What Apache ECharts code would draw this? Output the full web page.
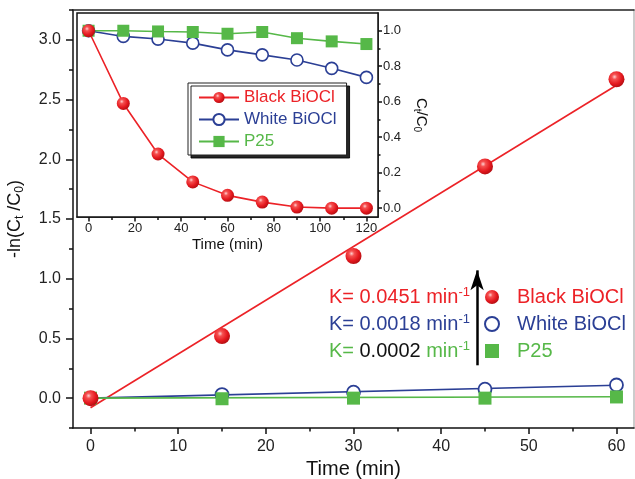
<!DOCTYPE html>
<html>
<head>
<meta charset="utf-8">
<script src="https://cdn.jsdelivr.net/npm/echarts@6/dist/echarts.min.js"></script>
<style>html,body{margin:0;padding:0;background:#fff}#c{width:635px;height:479px}</style>
</head>
<body>
<div id="c"></div>
<script>
// ---------- data ----------
var mainTimes = [0, 15, 30, 45, 60];
var mainBlack = [0, 0.52, 1.19, 1.94, 2.67];
var mainWhite = [0, 0.03, 0.05, 0.075, 0.11];
var mainP25 = [0, -0.005, 0, 0, 0.01];
var fitBlack = [[0, -0.08], [60, 2.62]];
var fitWhite = [[0, 0], [60, 0.108]];
var fitP25 = [[0, 0], [60, 0.012]];

var insetTimes = [0, 15, 30, 45, 60, 75, 90, 105, 120];
var insetBlack = [1.0, 0.59, 0.305, 0.148, 0.072, 0.034, 0.006, 0.0, 0.0];
var insetWhite = [1.0, 0.968, 0.953, 0.93, 0.892, 0.864, 0.835, 0.788, 0.737];
var insetP25 = [1.0, 1.0, 0.996, 0.993, 0.983, 0.993, 0.958, 0.94, 0.925];

var mainXTicks = [0, 10, 20, 30, 40, 50, 60];
var mainXMinor = [5, 15, 25, 35, 45, 55];
var mainYTicks = [0, 0.5, 1.0, 1.5, 2.0, 2.5, 3.0];
var mainYMinor = [-0.25, 0.25, 0.75, 1.25, 1.75, 2.25, 2.75, 3.25];
var insetXTicks = [0, 20, 40, 60, 80, 100, 120];
var insetXMinor = [10, 30, 50, 70, 90, 110];
var insetYTicks = [0, 0.2, 0.4, 0.6, 0.8, 1.0];
var insetYMinor = [0.1, 0.3, 0.5, 0.7, 0.9];

var names = ['Black BiOCl', 'White BiOCl', 'P25'];
var kTexts = ['0.0451', '0.0018', '0.0002'];
// ---------- end data ----------

var RED = '#ec2227', BLUE = '#2b3f95', GREEN = '#56b848';
var FONT = 'Liberation Sans, Arial, sans-serif';
function zip(xs, ys) { return xs.map(function (x, i) { return [x, ys[i]]; }); }
var sphere = function () {
  return {
    type: 'radial', x: 0.38, y: 0.35, r: 0.65,
    colorStops: [{ offset: 0, color: '#ffd0d0' }, { offset: 0.25, color: '#f55050' }, { offset: 0.7, color: '#e4181e' }, { offset: 1, color: '#b80f14' }]
  };
};

var chart = echarts.init(document.getElementById('c'), null, { renderer: 'canvas' });

function baseX(grid, min, max, ticks, minor, fs, margin, tickLen, extra) {
  return Object.assign({
    type: 'value', gridIndex: grid, min: min, max: max,
    axisLine: { show: true, onZero: false, lineStyle: { color: '#111', width: 1.5 } },
    axisTick: { show: true, inside: false, length: tickLen, customValues: ticks, lineStyle: { color: '#111', width: 1.5 } },
    axisLabel: { show: true, customValues: ticks, fontSize: fs, fontFamily: FONT, color: '#222', margin: margin },
    splitLine: { show: false }
  }, extra || {});
}
function minorAxis(grid, min, max, minor, len, pos) {
  return {
    type: 'value', gridIndex: grid, min: min, max: max, position: pos,
    axisLine: { show: false, onZero: false },
    axisTick: { show: true, inside: false, length: len, customValues: minor, lineStyle: { color: '#111', width: 1.5 } },
    axisLabel: { show: false }, splitLine: { show: false }
  };
}

var option = {
  backgroundColor: '#fff',
  animation: false,
  grid: [
    { left: 73, right: 1, top: 10, bottom: 51, containLabel: false, outerBoundsMode: 'none' },
    { left: 77, right: 257, top: 13, bottom: 262, outerBoundsMode: 'none', show: true, backgroundColor: '#fff', borderColor: '#111', borderWidth: 1.5, z: 3 }
  ],
  xAxis: [
    baseX(0, -2, 62, mainXTicks, mainXMinor, 16, 11, 6, {
      position: 'bottom',
      name: 'Time (min)', nameLocation: 'middle', nameGap: 30,
      nameTextStyle: { fontSize: 20, fontFamily: FONT, color: '#111' }
    }),
    minorAxis(0, -2, 62, mainXMinor, 3.5, 'bottom'),
    { type: 'value', gridIndex: 0, min: -2, max: 62, position: 'top',
      axisLine: { show: true, onZero: false, lineStyle: { color: '#222', width: 1.5 } },
      axisTick: { show: false }, axisLabel: { show: false }, splitLine: { show: false } },
    baseX(1, -5, 125, insetXTicks, insetXMinor, 13, 5, 4.5, {
      position: 'bottom',
      name: 'Time (min)', nameLocation: 'middle', nameGap: 20,
      nameTextStyle: { fontSize: 15, fontFamily: FONT, color: '#111' }
    }),
    minorAxis(1, -5, 125, insetXMinor, 3, 'bottom')
  ],
  yAxis: [
    baseX(0, -0.25, 3.25, mainYTicks, mainYMinor, 16, 12, 7, {
      position: 'left',
      axisLabel: { show: true, customValues: mainYTicks, fontSize: 16, fontFamily: FONT, color: '#222', margin: 12,
        formatter: function (v) { return v.toFixed(1); } },
      name: '{a|-ln(C}{s|t}{a| /C}{s|0}{a|)}', nameLocation: 'middle', nameGap: 47, nameRotate: 90,
      nameTextStyle: { fontFamily: FONT, color: '#111',
        rich: { a: { fontSize: 18, fontFamily: FONT, color: '#111', lineHeight: 22 },
                s: { fontSize: 12, fontFamily: FONT, color: '#111', verticalAlign: 'bottom', lineHeight: 22 } } }
    }),
    minorAxis(0, -0.25, 3.25, mainYMinor, 4, 'left'),
    { type: 'value', gridIndex: 0, min: -0.25, max: 3.25, position: 'right',
      axisLine: { show: true, onZero: false, lineStyle: { color: '#bbb', width: 1.5 } },
      axisTick: { show: false }, axisLabel: { show: false }, splitLine: { show: false } },
    baseX(1, -0.05, 1.1, insetYTicks, insetYMinor, 13, 5, 4, {
      position: 'right',
      axisLabel: { show: true, customValues: insetYTicks, fontSize: 13, fontFamily: FONT, color: '#222', margin: 5,
        formatter: function (v) { return v.toFixed(1); } },
      name: '{a|C}{s|t}{a|/C}{s|0}', nameLocation: 'middle', nameGap: 34, nameRotate: -90,
      nameTextStyle: { fontFamily: FONT, color: '#111',
        rich: { a: { fontSize: 15, fontFamily: FONT, color: '#111', lineHeight: 19 },
                s: { fontSize: 10, fontFamily: FONT, color: '#111', verticalAlign: 'bottom', lineHeight: 19 } } }
    }),
    minorAxis(1, -0.05, 1.1, insetYMinor, 2.5, 'right')
  ],
  legend: [
    {
      data: names.map(function (n, i) { return { name: n, textStyle: { color: [RED, BLUE, GREEN][i] } }; }),
      orient: 'vertical', left: 188, top: 83, padding: [5, 10, 4, 10],
      itemWidth: 40, itemHeight: 14, itemGap: 3,
      backgroundColor: '#fff', borderColor: '#222', borderWidth: 1,
      shadowColor: 'rgba(0,0,0,0.85)', shadowOffsetX: 3, shadowOffsetY: 3, shadowBlur: 0,
      textStyle: { fontSize: 17, fontFamily: FONT, lineHeight: 19 },
      selectedMode: false, z: 10
    },
    {
      data: names.map(function (n, i) {
        var item = { name: n + ' ln', textStyle: { color: [RED, BLUE, GREEN][i] } };
        if (i === 2) item.icon = 'path://M0,0H10V10H0Z';
        return item;
      }),
      formatter: function (n) { return n.replace(' ln', ''); },
      orient: 'vertical', left: 484, top: 287, padding: 0,
      itemWidth: 40, itemHeight: 14, itemGap: 7, symbolKeepAspect: true,
      textStyle: { fontSize: 20, fontFamily: FONT, lineHeight: 20 },
      selectedMode: false
    }
  ],
  graphic: [0, 1, 2].map(function (i) {
    var c = [RED, BLUE, GREEN][i];
    var numColor = i === 2 ? '#111' : c;
    return {
      type: 'text', x: 470, y: [297, 324, 351][i], z: 20,
      style: {
        text: '{a|K= }{n|' + kTexts[i] + '}{a| min}{s|-1}',
        align: 'right', verticalAlign: 'middle',
        rich: {
          a: { fontSize: 20, fontFamily: FONT, fill: c, lineHeight: 22 },
          n: { fontSize: 20, fontFamily: FONT, fill: numColor, lineHeight: 22 },
          s: { fontSize: 13, fontFamily: FONT, fill: c, lineHeight: 22, verticalAlign: 'top' }
        }
      }
    };
  }),
  series: [
    { type: 'line', name: 'fitB', xAxisIndex: 0, yAxisIndex: 0, data: fitBlack, symbol: 'none', lineStyle: { color: RED, width: 1.6 }, z: 2,
      markLine: {
        silent: true, symbol: ['none', 'arrow'], symbolSize: [10, 20],
        lineStyle: { color: '#000', width: 2.5, type: 'solid' }, label: { show: false },
        data: [[{ coord: [44.1, 0.275] }, { coord: [44.1, 1.07] }]]
      } },
    { type: 'line', name: 'fitW', xAxisIndex: 0, yAxisIndex: 0, data: fitWhite, symbol: 'none', lineStyle: { color: BLUE, width: 1.6 }, z: 2 },
    { type: 'line', name: 'fitG', xAxisIndex: 0, yAxisIndex: 0, data: fitP25, symbol: 'none', lineStyle: { color: GREEN, width: 1.6 }, z: 2 },
    { type: 'scatter', name: 'White BiOCl ln', xAxisIndex: 0, yAxisIndex: 0, data: zip(mainTimes, mainWhite),
      symbol: 'circle', symbolSize: 13, itemStyle: { color: '#fff', borderColor: BLUE, borderWidth: 1.8, opacity: 1 }, z: 4 },
    { type: 'scatter', name: 'P25 ln', xAxisIndex: 0, yAxisIndex: 0, data: zip(mainTimes, mainP25),
      symbol: 'rect', symbolSize: 13, itemStyle: { color: GREEN, opacity: 1 }, z: 5 },
    { type: 'scatter', name: 'Black BiOCl ln', xAxisIndex: 0, yAxisIndex: 0, data: zip(mainTimes, mainBlack),
      symbol: 'circle', symbolSize: 16, itemStyle: { color: sphere(), opacity: 1 }, z: 6 },
    { type: 'line', name: 'Black BiOCl', xAxisIndex: 3, yAxisIndex: 3, data: zip(insetTimes, insetBlack),
      symbol: 'circle', symbolSize: 13, showSymbol: true, lineStyle: { color: RED, width: 1.6 },
      itemStyle: { color: sphere() }, z: 6 },
    { type: 'line', name: 'White BiOCl', xAxisIndex: 3, yAxisIndex: 3, data: zip(insetTimes, insetWhite),
      symbol: 'circle', symbolSize: 12, showSymbol: true, lineStyle: { color: BLUE, width: 1.6 },
      itemStyle: { color: '#fff', borderColor: BLUE, borderWidth: 1.6 }, z: 5 },
    { type: 'line', name: 'P25', xAxisIndex: 3, yAxisIndex: 3, data: zip(insetTimes, insetP25),
      symbol: 'rect', symbolSize: 12, showSymbol: true, lineStyle: { color: GREEN, width: 1.6 },
      itemStyle: { color: GREEN }, z: 5 }
  ]
};
chart.setOption(option);
</script>
</body>
</html>
